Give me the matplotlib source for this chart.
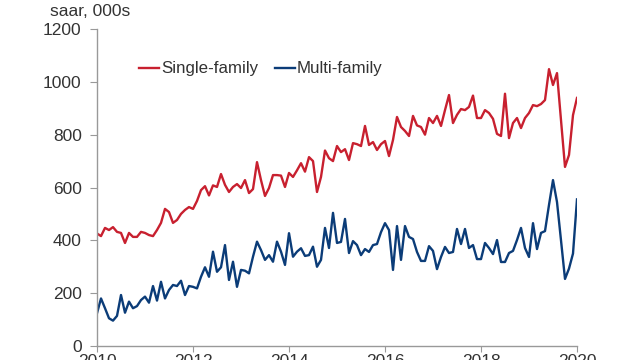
import numpy as np
from matplotlib import pyplot as plt

plt.rcParams['font.family'] = ['Liberation Sans', 'DejaVu Sans']

years = ['2010', '2012', '2014', '2016', '2018', '2020']

single = [426, 416, 447, 439, 450, 432, 428, 390, 428, 413, 413, 432, 428, 420, 416, 439,
          466, 519, 507, 466, 477, 500, 515, 526, 519, 549, 590, 605, 570, 608, 602, 651,
          610, 583, 602, 613, 598, 628, 579, 594, 696, 628, 568, 598, 647, 647, 645, 602,
          655, 640, 665, 692, 660, 715, 700, 583, 640, 740, 711, 700, 757, 734, 745, 704,
          768, 764, 757, 833, 761, 772, 742, 764, 776, 719, 780, 867, 829, 814, 795, 871,
          835, 829, 800, 863, 844, 871, 833, 893, 950, 844, 875, 897, 893, 905, 948, 863,
          863, 893, 882, 860, 803, 795, 955, 787, 844, 863, 825, 863, 882, 912, 908, 916,
          931, 1048, 988, 1033, 855, 678, 723, 874, 939]

multi = [124, 180, 143, 105, 96, 114, 193, 126, 168, 143, 151, 174, 187, 164, 227, 172,
         243, 180, 212, 231, 227, 247, 193, 227, 224, 218, 262, 298, 262, 357, 281, 298,
         382, 250, 319, 224, 288, 285, 275, 338, 395, 363, 326, 344, 319, 395, 357, 307,
         427, 338, 357, 370, 341, 344, 376, 300, 326, 447, 371, 504, 390, 394, 481, 352,
         397, 382, 344, 367, 356, 382, 386, 431, 465, 439, 288, 454, 326, 454, 413, 405,
         356, 322, 322, 378, 360, 291, 337, 375, 352, 356, 443, 386, 443, 371, 382, 329,
         329, 390, 371, 348, 401, 318, 318, 352, 360, 401, 447, 371, 337, 465, 367, 428,
         435, 534, 628, 545, 400, 254, 293, 350, 555]

red = '#C8202F'
blue = '#0B3C78'

fig = plt.figure(figsize=(6.4, 3.6), dpi=100)
ax = fig.add_axes([97 / 640, 14 / 360, 480 / 640, 317 / 360])

x = np.arange(len(single))
ax.plot(x, single, color=red, lw=1.7, label='Single-family')
ax.plot(x, multi, color=blue, lw=1.7, label='Multi-family')

ax.set_xlim(0, len(single) - 1)
ax.set_ylim(0, 1200)
ax.set_yticks(range(0, 1201, 200))
ax.set_xticks(np.linspace(0, len(single) - 1, len(years)))
ax.set_xticklabels(years)

for s in ['top', 'right']:
    ax.spines[s].set_visible(False)
for s in ['left', 'bottom']:
    ax.spines[s].set_color('#999999')
    ax.spines[s].set_linewidth(1)
ax.tick_params(axis='y', colors='#999999', labelcolor='#333333', labelsize=12.5,
               length=5, pad=6)
ax.tick_params(axis='x', colors='#999999', labelcolor='#333333', labelsize=12.5,
               length=4, pad=2)

fig.text(50 / 640, 1 - 11 / 360, 'saar, 000s', fontsize=12.5, color='#333333',
         ha='left', va='center')

fig.legend(loc='center left', bbox_to_anchor=(139 / 640, 1 - 69 / 360), frameon=False,
           ncol=2, fontsize=12.2, handlelength=1.2, handletextpad=0.1,
           columnspacing=1.0, borderpad=0, borderaxespad=0, labelcolor='#333333')

fig.savefig('out.png', dpi=100)
